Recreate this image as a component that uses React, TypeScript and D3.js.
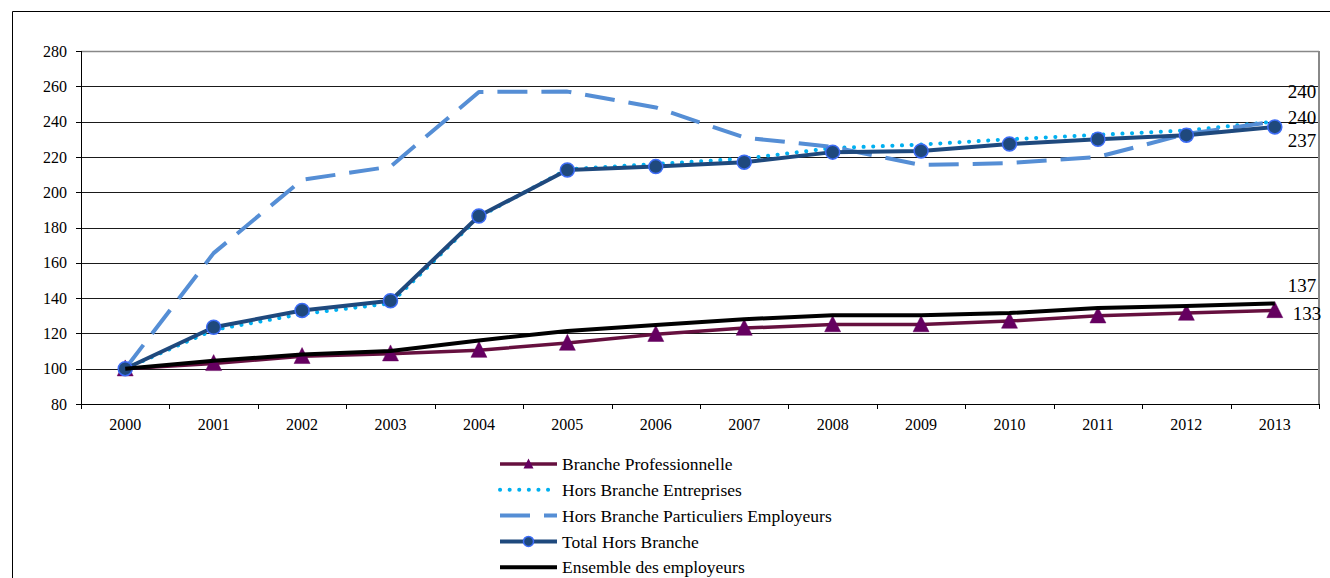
import React from "react";
import * as d3 from "d3";

const years = ["2000","2001","2002","2003","2004","2005","2006","2007","2008","2009","2010","2011","2012","2013"];
const yTicks = [80,100,120,140,160,180,200,220,240,260,280];

const brancheProfessionnelle = [100,103,107,108.5,110.5,114.5,119.5,123,125,125,127,130,131.5,133];
const horsBrancheEntreprises = [100,122,131,137,186,213,216,219,225,227,230,232.5,235,240];
const horsBrancheParticuliers = [100,165.5,207,214.5,256.8,257,248,231,225.6,215.4,216.5,220,233,240];
const totalHorsBranche = [100,123.5,133,138.5,186.5,212.6,214.5,217,222.7,223.4,227.3,230,232.3,237];
const ensembleEmployeurs = [100,104.5,108,110,116,121.4,124.8,128,130.3,130.3,131.5,134.4,135.5,137];

type Series = {
  name: string;
  values: number[];
  color: string;
  width: number;
  dash?: string;
  cap?: string;
  marker?: "triangle" | "circle";
  labelDx: number;
  labelDy: number;
};

const series: Series[] = [
  { name: "Branche Professionnelle", values: brancheProfessionnelle, color: "#66103f", width: 3.5, marker: "triangle", labelDx: 18, labelDy: 3 },
  { name: "Hors Branche Entreprises", values: horsBrancheEntreprises, color: "#00b0f0", width: 4, dash: "0.1 9.5", cap: "round", labelDx: 13, labelDy: -4 },
  { name: "Hors Branche Particuliers Employeurs", values: horsBrancheParticuliers, color: "#558ed5", width: 4, dash: "30 14", labelDx: 13, labelDy: -30 },
  { name: "Total Hors Branche", values: totalHorsBranche, color: "#1f497d", width: 4, marker: "circle", labelDx: 13, labelDy: 13 },
  { name: "Ensemble des employeurs", values: ensembleEmployeurs, color: "#000000", width: 4, labelDx: 13, labelDy: -18 },
];

const W = 1330, H = 578;
const left = 81, right = 1319, top = 51, bottom = 404;
const FONT = "'Liberation Serif', 'Times New Roman', 'DejaVu Serif', serif";

export default function App() {
  const x = d3.scaleBand<string>().domain(years).range([left, right]);
  const y = d3.scaleLinear().domain([80, 280]).range([bottom, top]);
  const cx = (yr: string) => (x(yr) as number) + x.bandwidth() / 2;
  const line = d3.line<number>().x((_, i) => cx(years[i])).y((v) => y(v));
  const tri = (px: number, py: number, s: number) =>
    `M${px},${py - s * 0.55}L${px + s / 2},${py + s * 0.45}L${px - s / 2},${py + s * 0.45}Z`;
  const ts = { fontFamily: FONT };

  const legendX = 500, legendLen = 57, legendY0 = 464, legendStep = 25.8;

  return (
    <svg width={W} height={H} style={{ position: "absolute", left: 0, top: 0, background: "#fff", fontFamily: FONT }}>
      {/* outer frame */}
      <line x1={12.5} y1={11.5} x2={W} y2={11.5} stroke="#000" strokeWidth={1} />
      <line x1={12.5} y1={11.5} x2={12.5} y2={H} stroke="#000" strokeWidth={1} />

      {/* gridlines */}
      {yTicks.map((t) => (
        <line key={t} x1={left} x2={right} y1={Math.round(y(t)) + 0.5} y2={Math.round(y(t)) + 0.5} stroke="#1a1a1a" strokeWidth={1} />
      ))}
      {/* plot border top/right */}
      <line x1={left} x2={right} y1={top + 0.5} y2={top + 0.5} stroke="#888" strokeWidth={1.5} />
      <line x1={right} x2={right} y1={top} y2={bottom} stroke="#888" strokeWidth={2} />

      {/* left axis */}
      <line x1={left + 0.5} x2={left + 0.5} y1={top} y2={bottom + 0.5} stroke="#000" strokeWidth={1} />
      {yTicks.map((t) => (
        <g key={"yt" + t}>
          <line x1={left - 5} x2={left} y1={Math.round(y(t)) + 0.5} y2={Math.round(y(t)) + 0.5} stroke="#000" />
          <text style={ts} x={67} y={y(t)} dy="0.35em" textAnchor="end" fontSize={16} fill="#000">{t}</text>
        </g>
      ))}

      {/* bottom axis */}
      <line x1={left} x2={right} y1={bottom + 0.5} y2={bottom + 0.5} stroke="#000" strokeWidth={1} />
      {[...years.map((yr) => x(yr) as number), right].map((p, i) => (
        <line key={"xt" + i} x1={Math.round(p) + 0.5} x2={Math.round(p) + 0.5} y1={bottom} y2={bottom + 5} stroke="#000" />
      ))}
      {years.map((yr) => (
        <text style={ts} key={"xl" + yr} x={cx(yr)} y={430} textAnchor="middle" fontSize={16} fill="#000">{yr}</text>
      ))}

      {/* series */}
      {series.map((s) => (
        <g key={s.name}>
          <path d={line(s.values) as string} fill="none" stroke={s.color} strokeWidth={s.width}
            strokeDasharray={s.dash} strokeLinecap={(s.cap as any) || "butt"} strokeLinejoin="round" />
          {s.marker === "triangle" && s.values.map((v, i) => (
            <path key={i} d={tri(cx(years[i]), y(v), 16)} fill="#650060" stroke="#650060" strokeWidth={0.5} />
          ))}
          {s.marker === "circle" && s.values.map((v, i) => (
            <circle key={i} cx={cx(years[i])} cy={y(v)} r={7} fill="#1f497d" stroke="#3d6cf5" strokeWidth={1.5} />
          ))}
        </g>
      ))}

      {/* end labels */}
      {series.map((s) => {
        const last = s.values.length - 1;
        return (
          <text style={ts} key={"lab" + s.name} x={cx(years[last]) + s.labelDx} y={y(s.values[last]) + s.labelDy} dy="0.35em" fontSize={19} fill="#000">
            {Math.round(s.values[last])}
          </text>
        );
      })}

      {/* legend */}
      {series.map((s, i) => {
        const ly = legendY0 + i * legendStep;
        const mx = legendX + legendLen / 2;
        return (
          <g key={"leg" + s.name}>
            <line x1={legendX} x2={legendX + legendLen} y1={ly} y2={ly} stroke={s.color} strokeWidth={s.width}
              strokeDasharray={s.dash} strokeLinecap={(s.cap as any) || "butt"} />
            {s.marker === "triangle" && <path d={tri(mx, ly, 10)} fill="#650060" />}
            {s.marker === "circle" && <circle cx={mx} cy={ly} r={5} fill="#1f497d" stroke="#3d6cf5" strokeWidth={1.5} />}
            <text style={ts} x={562} y={ly} dy="0.35em" fontSize={17.5} fill="#000">{s.name}</text>
          </g>
        );
      })}
    </svg>
  );
}
